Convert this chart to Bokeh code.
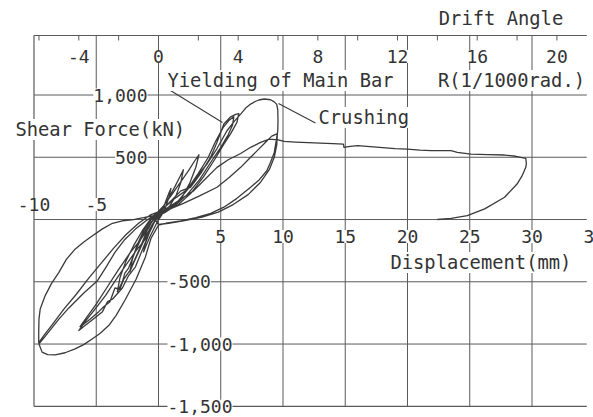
from bokeh.plotting import figure
from bokeh.models import Range1d, Label, LabelSet, ColumnDataSource
from bokeh.embed import file_html
from bokeh.resources import INLINE
from bokeh.core.properties import value

# ---------------- data ----------------
disp_grid = [-5, 0, 5, 10, 15, 20, 25, 30]
force_grid = [-1000, -500, 0, 500, 1000]
disp_ticks_pos = [5, 10, 15, 20, 25, 30, 35]
disp_ticks_neg = [-10, -5]
force_ticks_pos = [1000, 500]
force_ticks_neg = [-500, -1000, -1500]
drift_ticks = [-4, 0, 4, 8, 12, 16, 20]
drift_minor = [-6, -4, -2, 0, 2, 4, 6, 8, 10, 12, 14, 16, 18, 20]
mm_per_drift = 1.6   # displacement (mm) per 1/1000 rad
frame_x = (-10, 34.4)      # plotted displacement extent (mm)
frame_y = (-1500, 1478)    # plotted shear-force extent (kN)

# hysteresis path: displacement (mm) and shear force (kN), in loading order
disp_mm = [
    0, 0.3, 0.6, 0.85, 1.0, 0.85, 0.55, 0.25, -0.05, -0.35, -0.7, -1.0, -1.2, -1.05, -0.75, -0.4, -0.1,
    0.3, 0.8, 1.3, 1.7, 2.0, 1.8, 1.4, 0.9, 0.4, 0.0, -0.5, -1.0, -1.5, -2.0, -2.3, -2.1, -1.7, -1.2, -0.6, -0.2,
    0.4, 1.0, 1.7, 2.4, 2.9, 3.25, 3.0, 2.5, 1.9, 1.2, 0.5, 0.0, -0.6, -1.2, -1.8, -2.4, -2.7, -2.9, -3.3, -3.1, -2.6, -2.0, -1.3, -0.6, -0.2,
    0.3, 1.0, 1.8, 2.57, 3.4, 4.18, 4.7, 5.25, 5.8, 6.2, 6.45, 6.3, 5.8, 5.25, 4.5, 3.6, 2.6, 1.6, 0.7, 0.0,
    -0.5, -1.0, -1.85, -2.4, -2.9, -3.7, -4.1, -4.5, -5.3, -5.9, -6.4, -5.9, -5.3, -4.26, -3.4, -2.65, -1.8, -1.05, -0.5, -0.1,
    0.4, 1.2, 2.3, 3.2, 4.0, 4.6, 5.2, 5.7, 6.05, 5.95, 5.6, 5.0, 4.2, 3.3, 2.3, 1.3, 0.4, -0.2,
    -0.8, -1.5, -2.3, -2.8, -3.1, -3.5, -3.9, -4.4, -4.8, -5.5, -6.0, -6.3, -5.8, -5.0, -4.1, -3.2, -2.3, -1.5, -0.8, -0.3,
    0.5, 1.5, 2.5, 3.2, 3.9, 4.7, 5.5, 6.1, 6.6, 7.0, 7.4, 7.8, 8.06, 8.5, 9.0, 9.3, 9.5, 9.58, 9.6, 9.58, 9.55,
    9.4, 9.3, 9.0, 8.7, 8.1, 7.4, 6.3, 5.25, 4.2, 3.0, 1.8, 0.6, 0.0,
    -0.6, -1.05, -1.8, -2.65, -3.4, -4.0, -4.7, -5.33, -6.0, -6.7, -7.5, -8.3, -8.9, -9.35, -9.6,
    -9.2, -8.8, -8.0, -7.2, -6.0, -4.9, -4.2, -3.5, -2.7, -1.85, -1.0, -0.25,
    0.8, 2.0, 3.3, 4.7, 5.7, 6.6, 7.3, 7.93, 8.6, 9.1, 9.55,
    9.5, 9.3, 8.9, 8.2, 7.2, 6.0, 4.8, 3.5, 2.0, 0.8, 0.0,
    -0.5, -1.2, -2.0, -2.9, -3.7, -4.5, -5.3, -6.0, -6.7, -7.4, -8.0, -8.6, -9.1, -9.5, -9.6, -9.62, -9.62,
    -9.2, -8.5, -7.6, -6.6, -5.6, -4.6, -3.6, -2.6, -1.6, -0.6,
    0.5, 1.6, 2.84, 3.8, 4.7, 5.6, 6.6, 7.4, 8.2, 8.9, 9.6, 10.1, 11.0, 12.0, 13.0, 14.0, 14.85, 14.9,
    15.4, 16.0, 17.0, 18.0, 19.0, 20.0, 21.0, 21.9, 23.5, 24.0, 25.1, 26.5, 27.8, 28.7, 29.5,
    29.55, 29.5, 29.2, 28.8, 27.8, 26.2, 24.8, 23.5, 22.4,
]
shear_kN = [
    0, 70, 150, 215, 250, 180, 95, 35, -10, -70, -140, -210, -260, -190, -110, -35, 30,
    90, 170, 260, 340, 400, 300, 190, 110, 55, 20, -40, -130, -240, -350, -420, -320, -200, -90, 0, 45,
    110, 190, 290, 390, 470, 520, 420, 290, 180, 100, 55, 30, -20, -110, -240, -390, -430, -500, -580, -470, -330, -210, -90, 10, 50,
    80, 150, 230, 259, 370, 499, 620, 767, 825, 845, 850, 780, 690, 606, 480, 340, 210, 120, 70, 40,
    -40, -170, -380, -450, -550, -640, -660, -740, -805, -852, -892, -820, -745, -611, -480, -371, -250, -158, -60, 40,
    90, 160, 240, 370, 500, 630, 740, 800, 825, 760, 680, 580, 460, 320, 200, 110, 60, 30,
    -60, -230, -410, -480, -560, -550, -660, -700, -740, -800, -840, -860, -790, -680, -540, -400, -270, -170, -70, 30,
    60, 140, 260, 360, 446, 570, 713, 790, 847, 895, 927, 950, 960, 968, 962, 945, 925, 880, 800, 713, 690,
    600, 539, 460, 392, 320, 259, 170, 99, 50, 15, -10, -30, -45,
    -150, -300, -480, -640, -770, -852, -915, -959, -1005, -1039, -1070, -1087, -1085, -1065, -999,
    -950, -900, -800, -710, -590, -491, -380, -264, -160, -77, -10, 43,
    80, 130, 190, 259, 340, 419, 490, 553, 620, 670, 690,
    600, 500, 400, 300, 200, 120, 60, 20, -10, -30, -40,
    30, 15, 0, -10, -30, -75, -131, -180, -238, -320, -425, -515, -611, -718, -800, -900, -990,
    -930, -840, -720, -600, -470, -350, -230, -120, -30, 40,
    80, 150, 232, 330, 419, 480, 530, 580, 619, 645, 640, 627, 622, 617, 613, 610, 606, 579,
    588, 593, 585, 577, 570, 566, 558, 553, 553, 540, 526, 522, 518, 508, 491,
    450, 419, 350, 285, 179, 86, 32, 10, 0,
]

# ---------------- figure ----------------
INK = "#333333"
GRID = "#5a5a5a"
CURVE = "#3a3a3a"
MONO = "DejaVu Sans Mono"

p = figure(width=593, height=417, x_range=Range1d(-12.69, 34.94), y_range=Range1d(-1590, 1759),
           x_axis_type=None, y_axis_type=None, output_backend="svg", toolbar_location=None,
           min_border=0)
p.outline_line_color = None
p.xgrid.visible = False
p.ygrid.visible = False
p.background_fill_color = "white"
p.border_fill_color = "white"

x0, x1 = frame_x
y0, y1 = frame_y

# grid lines
p.segment(x0=disp_grid, y0=[y0] * len(disp_grid), x1=disp_grid, y1=[y1] * len(disp_grid),
          line_color=GRID, line_width=1)
p.segment(x0=[x0] * len(force_grid), y0=force_grid, x1=[x1] * len(force_grid), y1=force_grid,
          line_color=GRID, line_width=1)
# frame: left, top, bottom
p.segment(x0=[x0, x0, x0], y0=[y0, y1, y0], x1=[x0, x1, x1], y1=[y1, y1, y0],
          line_color=GRID, line_width=1.2)

# drift-angle minor ticks along the top edge
tick_x = [d * mm_per_drift for d in drift_minor]
p.segment(x0=tick_x, y0=[y1] * len(tick_x), x1=tick_x, y1=[y1 - 40] * len(tick_x),
          line_color=GRID, line_width=1)

# hysteresis curve
p.line(disp_mm, shear_kN, line_color=CURVE, line_width=1.3, line_join="round")

# leader lines
p.line([0.96, 5.14], [1036, 779], line_color=CURVE, line_width=1.1)
p.line([9.64, 12.61], [932, 775], line_color=CURVE, line_width=1.1)

NUM_SIZE = "18px"
TXT_SIZE = "18.8px"

def labelset(xs, ys, texts, align, xoff, yoff):
    src = ColumnDataSource(dict(x=xs, y=ys, text=texts))
    ls = LabelSet(x="x", y="y", text="text", source=src, text_align=align, text_baseline="middle",
                  x_offset=xoff, y_offset=yoff, text_font=value(MONO), text_font_size=value(NUM_SIZE),
                  text_color=INK, background_fill_color="white")
    p.add_layout(ls)

# shear-force tick labels
labelset([0] * len(force_ticks_pos), force_ticks_pos, [f"{v:,}" for v in force_ticks_pos], "right", -11, 0)
labelset([0] * len(force_ticks_neg), force_ticks_neg, [f"{v:,}" for v in force_ticks_neg], "left", 9, 0)
# displacement tick labels
labelset(disp_ticks_pos, [0] * len(disp_ticks_pos), [str(v) for v in disp_ticks_pos], "center", 0, -17)
labelset(disp_ticks_neg, [0] * len(disp_ticks_neg), [str(v) for v in disp_ticks_neg], "center", 0, 15)
# drift angle tick labels
labelset([d * mm_per_drift for d in drift_ticks], [y1] * len(drift_ticks), [str(d) for d in drift_ticks],
         "center", 0, -21)

def text(x, y, s, align="left"):
    p.add_layout(Label(x=x, y=y, text=s, text_align=align, text_baseline="middle",
                       text_font=MONO, text_font_size=TXT_SIZE, text_color=INK,
                       background_fill_color="white"))

text(27.51, 1614, "Drift Angle", "center")
text(-11.49, 723, "Shear Force(kN)")
text(0.72, 1116, "Yielding of Main Bar")
text(22.45, 1116, "R(1/1000rad.)")
text(12.85, 819, "Crushing")
text(18.63, -345, "Displacement(mm)")

open("out.html", "w").write(file_html(p, INLINE))
